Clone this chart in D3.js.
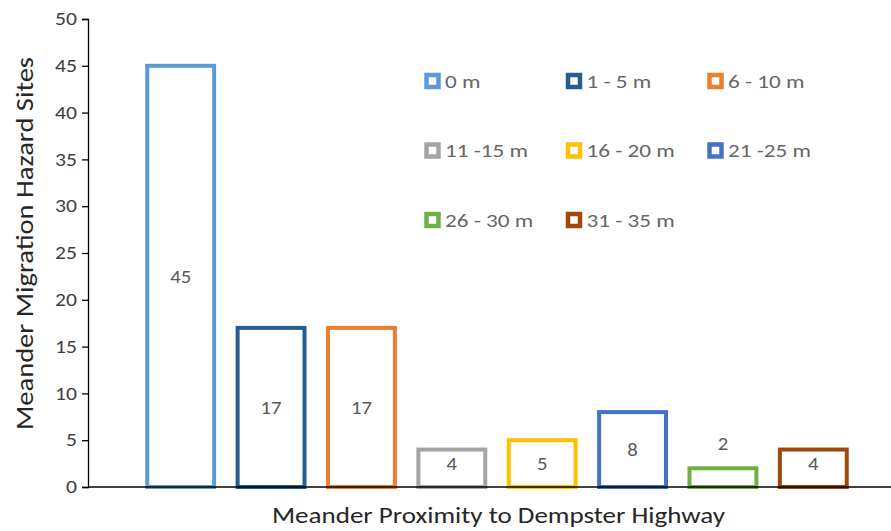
<!DOCTYPE html>
<html>
<head>
<meta charset="utf-8">
<script src="https://cdn.jsdelivr.net/npm/d3@7/dist/d3.min.js"></script>
<style>
  html, body { margin: 0; padding: 0; background: #fff; }
  svg { display: block; font-family: Carlito, Calibri, Lato, sans-serif; }
  svg text { font-family: Carlito, Calibri, Lato, sans-serif; }
</style>
</head>
<body>
<svg id="chart" width="891" height="531"></svg>
<script>
// Distance classes (one series each) and the number of hazard sites in each
const classes = ["0 m", "1 - 5 m", "6 - 10 m", "11 -15 m", "16 - 20 m", "21 -25 m", "26 - 30 m", "31 - 35 m"];
const sites = [45, 17, 17, 4, 5, 8, 2, 4];
const colors = ["#5B9BD5", "#255E91", "#ED7D31", "#A5A5A5", "#FFC000", "#4472C4", "#70AD47", "#9E480E"];
const yTicks = [0, 5, 10, 15, 20, 25, 30, 35, 40, 45, 50];

const svg = d3.select("#chart");

// Widen text glyphs horizontally by factor k (the chart uses a wide face)
function widen(sel, k) {
  sel.each(function () {
    const w = this.getComputedTextLength();
    if (w > 0) {
      d3.select(this).attr("textLength", w * k).attr("lengthAdjust", "spacingAndGlyphs");
    }
  });
}

const x = d3.scaleBand()
  .domain(classes)
  .range([135.5, 858.5])
  .paddingInner(0.26)
  .paddingOuter(0.13);

const y = d3.scaleLinear().domain([0, 50]).range([487, 19]);

// Y axis
const yAxis = svg.append("g")
  .attr("transform", "translate(88,0)")
  .call(d3.axisLeft(y).tickValues(yTicks).tickSize(6).tickPadding(5));
yAxis.select(".domain").attr("stroke", "#000").attr("stroke-width", 1.3);
yAxis.selectAll(".tick line").attr("stroke", "#000").attr("stroke-width", 1.3);
yAxis.selectAll(".tick text")
  .attr("fill", "#404040")
  .style("font-size", "18px")
  .style("font-family", "Carlito, Calibri, Lato, sans-serif")
  .call(widen, 1.2);

// Bars: outlined, no fill
svg.append("g").selectAll("rect")
  .data(classes)
  .join("rect")
  .attr("x", d => x(d))
  .attr("y", (d, i) => y(sites[i]))
  .attr("width", x.bandwidth())
  .attr("height", (d, i) => y(0) - y(sites[i]))
  .attr("fill", "none")
  .attr("stroke", (d, i) => colors[i])
  .attr("stroke-width", 4);

// X axis baseline
svg.append("line")
  .attr("x1", 88).attr("x2", 891)
  .attr("y1", y(0)).attr("y2", y(0))
  .attr("stroke", "#000").attr("stroke-width", 1.3);

// Value labels: centred in the bar, above it when the bar is too short
svg.append("g").selectAll("text")
  .data(classes)
  .join("text")
  .attr("x", d => x(d) + x.bandwidth() / 2)
  .attr("y", (d, i) => {
    const top = y(sites[i]);
    const h = y(0) - top;
    if (h < 25) return top - 25;
    return Math.min((top + y(0)) / 2, y(0) - 23);
  })
  .attr("dy", "0.35em")
  .attr("text-anchor", "middle")
  .attr("fill", "#595959")
  .style("font-size", "18px")
  .text((d, i) => sites[i])
  .call(widen, 1.15);

// Legend, three columns
const legendItems = svg.append("g").selectAll("g")
  .data(classes)
  .join("g")
  .attr("transform", (d, i) => `translate(${432.5 + (i % 3) * 141.5},${81 + Math.floor(i / 3) * 69.5})`);
legendItems.append("rect")
  .attr("x", -6).attr("y", -6)
  .attr("width", 12).attr("height", 12)
  .attr("fill", "#fff")
  .attr("stroke", (d, i) => colors[i])
  .attr("stroke-width", 4.5);
legendItems.append("text")
  .attr("x", 12.5)
  .attr("y", 0)
  .attr("dy", "0.35em")
  .attr("fill", "#666")
  .style("font-size", "19px")
  .text(d => d)
  .call(widen, 1.22);

// Axis titles
svg.append("text")
  .attr("transform", "translate(33,243.5) rotate(-90)")
  .attr("text-anchor", "middle")
  .attr("fill", "#262626")
  .style("font-size", "25px")
  .text("Meander Migration Hazard Sites")
  .attr("textLength", 373)
  .attr("lengthAdjust", "spacingAndGlyphs");

svg.append("text")
  .attr("x", 498.5)
  .attr("y", 523)
  .attr("text-anchor", "middle")
  .attr("fill", "#262626")
  .style("font-size", "22px")
  .text("Meander Proximity to Dempster Highway")
  .attr("textLength", 453)
  .attr("lengthAdjust", "spacingAndGlyphs");
</script>
</body>
</html>
